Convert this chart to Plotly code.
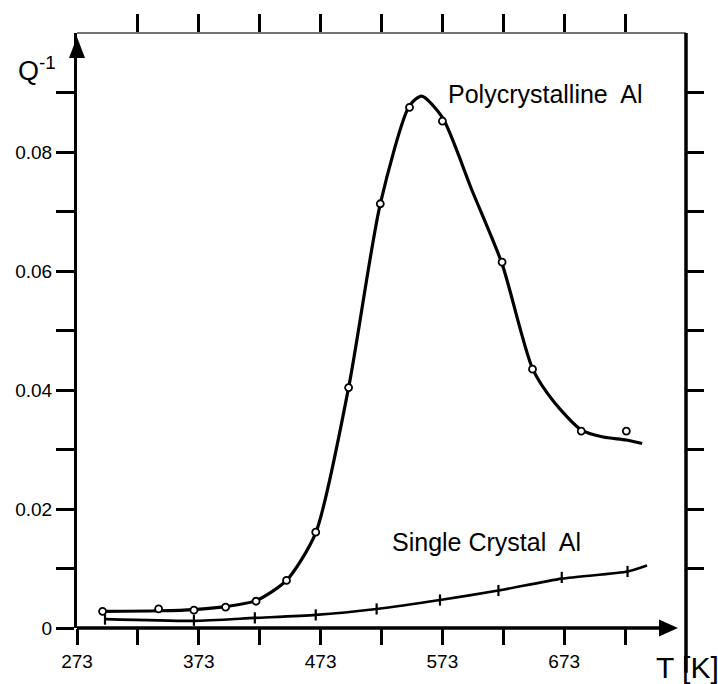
import plotly.graph_objects as go

# ---- data ----
poly_T = [294, 340, 369, 395, 420, 445, 469, 496, 522, 546, 573, 622, 647, 687, 724]
poly_Q = [0.0028, 0.0032, 0.0030, 0.0035, 0.0045, 0.0080, 0.0161, 0.0404, 0.0713,
          0.0875, 0.0852, 0.0615, 0.0435, 0.0331, 0.0331]

poly_fit_T = [294, 340, 369, 395, 420, 445, 469, 496, 522, 546, 556, 573, 597, 622, 647,
              665, 687, 705, 724, 737]
poly_fit_Q = [0.0028, 0.0029, 0.0031, 0.0036, 0.0046, 0.0080, 0.0160, 0.0404, 0.0713,
              0.0878, 0.0894, 0.0858, 0.0737, 0.0612, 0.0436, 0.0379, 0.0333, 0.0321,
              0.0316, 0.0310]

single_T = [296, 369, 419, 469, 519, 571, 619, 671, 725]
single_Q = [0.0015, 0.0013, 0.0017, 0.0022, 0.0032, 0.0047, 0.0063, 0.0085, 0.0095]

single_fit_T = [296, 369, 419, 469, 519, 571, 619, 671, 725, 741]
single_fit_Q = [0.0015, 0.0012, 0.0017, 0.0022, 0.0032, 0.0047, 0.0063, 0.0083, 0.0095, 0.0105]

x_range = [273, 773]
y_range = [0, 0.1]
x_tickvals = [273, 323, 373, 423, 473, 523, 573, 623, 673, 723]
x_ticktext = ["273", "", "373", "", "473", "", "573", "", "673", ""]
x_top_tickvals = [323, 373, 423, 473, 523, 573, 623, 673, 723]
y_tickvals = [0, 0.01, 0.02, 0.03, 0.04, 0.05, 0.06, 0.07, 0.08, 0.09]
y_ticktext = ["0", "", "0.02", "", "0.04", "", "0.06", "", "0.08", ""]
y_right_tickvals = [0.01, 0.02, 0.03, 0.04, 0.05, 0.06, 0.07, 0.08, 0.09]

FONT = "Liberation Sans, Arial, sans-serif"

fig = go.Figure()

fig.add_trace(go.Scatter(x=poly_fit_T, y=poly_fit_Q, mode="lines",
                         line=dict(color="black", width=3.2, shape="spline", smoothing=0.7),
                         hoverinfo="skip", showlegend=False))
fig.add_trace(go.Scatter(x=poly_T, y=poly_Q, mode="markers",
                         marker=dict(symbol="circle", size=7, color="white",
                                     line=dict(color="black", width=1.8)),
                         showlegend=False))
fig.add_trace(go.Scatter(x=single_fit_T, y=single_fit_Q, mode="lines",
                         line=dict(color="black", width=2.6, shape="spline", smoothing=0.6),
                         hoverinfo="skip", showlegend=False))
fig.add_trace(go.Scatter(x=single_T, y=single_Q, mode="markers",
                         marker=dict(symbol="line-ns-open", size=8, color="black",
                                     line=dict(color="black", width=2.2)),
                         showlegend=False))
# invisible trace to activate the mirror axes
fig.add_trace(go.Scatter(x=[x_range[0]], y=[y_range[0]], xaxis="x2", yaxis="y2",
                         mode="markers", marker=dict(opacity=0), hoverinfo="skip",
                         showlegend=False))

fig.update_layout(
    width=718, height=684,
    margin=dict(l=77, r=32, t=33, b=49),
    paper_bgcolor="white", plot_bgcolor="white",
    font=dict(family=FONT, color="black"),
    xaxis=dict(range=x_range, tickvals=x_tickvals, ticktext=x_ticktext,
               ticks="outside", ticklen=16, tickwidth=3, tickcolor="black",
               showline=False, showgrid=False, zeroline=False,
               tickfont=dict(size=19, family=FONT, color="black")),
    yaxis=dict(range=y_range, tickvals=y_tickvals, ticktext=y_ticktext,
               ticks="outside", ticklen=18, tickwidth=3, tickcolor="black",
               showline=True, linewidth=3, linecolor="black",
               showgrid=False, zeroline=False,
               tickfont=dict(size=19, family=FONT, color="black")),
    xaxis2=dict(range=x_range, overlaying="x", side="top", tickvals=x_top_tickvals,
                ticks="outside", ticklen=18, tickwidth=3, tickcolor="black",
                showticklabels=False, showline=False, showgrid=False, zeroline=False),
    yaxis2=dict(range=y_range, overlaying="y", side="right", tickvals=y_right_tickvals,
                ticks="outside", ticklen=17, tickwidth=3, tickcolor="black",
                showticklabels=False, showline=False, showgrid=False, zeroline=False),
)

shapes = [
    # x axis line (stops before arrow)
    dict(type="line", xref="paper", yref="paper", x0=0, x1=0.96, y0=0, y1=0,
         line=dict(color="black", width=3.5)),
    # top frame line (thin)
    dict(type="line", xref="paper", yref="paper", x0=0, x1=1, y0=1, y1=1,
         line=dict(color="#444", width=1.5)),
    # right frame line, extending down into the "[" of the unit label
    dict(type="line", xref="paper", yref="paper", x0=1, x1=1, y0=-0.075, y1=1,
         line=dict(color="black", width=3.5)),
    # y axis arrowhead
    dict(type="path", xref="paper", yref="paper", xsizemode="pixel", ysizemode="pixel",
         xanchor=0, yanchor=1,
         path="M -8,-25 L 8,-25 L 0,-4 Z", fillcolor="black", line=dict(width=0)),
    # x axis arrowhead
    dict(type="path", xref="paper", yref="paper", xsizemode="pixel", ysizemode="pixel",
         xanchor=1, yanchor=0,
         path="M -27,-8.5 L -27,8.5 L -8,0 Z", fillcolor="black", line=dict(width=0)),
]
fig.update_layout(shapes=shapes)

annotations = [
    dict(text="Q<sup>-1</sup>", xref="paper", yref="paper", x=-0.1, y=0.94,
         xanchor="left", yanchor="middle", showarrow=False,
         font=dict(size=27, family=FONT, color="black")),
    dict(text="T [K]", xref="paper", yref="paper", x=0.948, y=-0.066,
         xanchor="left", yanchor="middle", showarrow=False,
         font=dict(size=30, family=FONT, color="black")),
    dict(text="Polycrystalline  Al", xref="paper", yref="paper", x=(446 - 77) / 609,
         y=(635 - 95) / 602, xanchor="left", yanchor="middle", showarrow=False,
         font=dict(size=25, family=FONT, color="black")),
    dict(text="Single Crystal  Al", xref="paper", yref="paper", x=(390 - 77) / 609,
         y=(635 - 548) / 602, xanchor="left", yanchor="middle", showarrow=False,
         font=dict(size=25, family=FONT, color="black")),
]
fig.update_layout(annotations=annotations)

fig.write_html("out.html")
